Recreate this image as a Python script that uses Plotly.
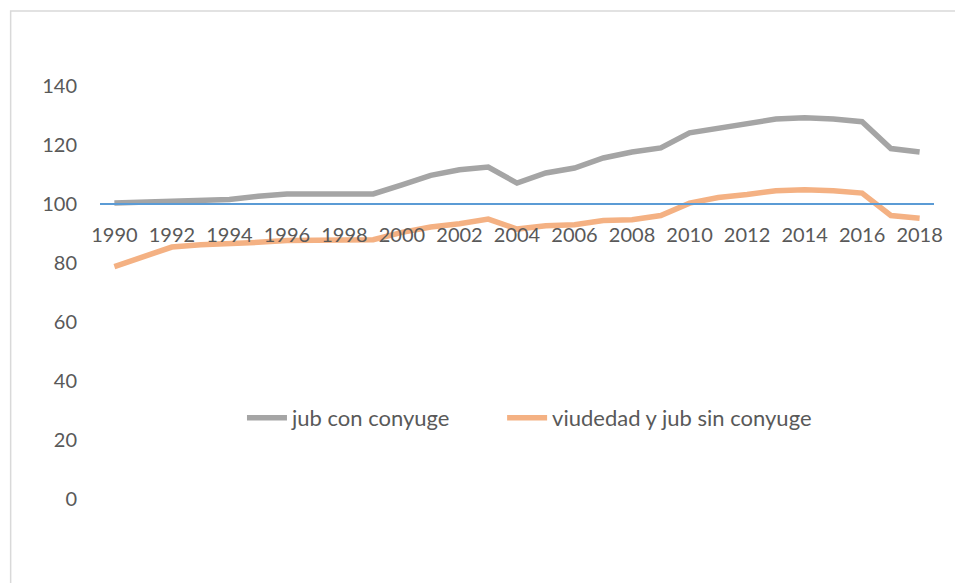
import plotly.graph_objects as go

# Index series, base 100
years = list(range(1990, 2019))
jub_con_conyuge = [100.3, 100.6, 100.8, 101.5, 101.5, 102.6, 103.4, 103.4, 103.4, 103.4,
                   106.5, 109.7, 111.6, 112.5, 107.1, 110.5, 112.2, 115.6, 117.6, 119.0,
                   124.1, 125.8, 127.2, 128.8, 129.2, 128.8, 127.9, 118.8, 117.6]
viudedad_sin_conyuge = [78.8, 82.1, 85.4, 86.2, 86.5, 87.0, 87.6, 87.8, 88.0, 87.9,
                        90.4, 92.2, 93.3, 94.9, 91.5, 92.6, 93.0, 94.4, 94.7, 96.1,
                        100.3, 102.2, 103.2, 104.5, 104.8, 104.5, 103.7, 96.1, 95.2]
series_names = ["jub con conyuge", "viudedad y jub sin conyuge"]
y_ticks = [0, 20, 40, 60, 80, 100, 120, 140]
base_value = 100

FONT = "Lato, Carlito, 'Liberation Sans', sans-serif"
TEXT = "#595959"

fig = go.Figure()
fig.add_trace(go.Scatter(
    x=years, y=jub_con_conyuge, name=series_names[0], mode="lines",
    line=dict(color="#A5A5A5", width=5.5), legend="legend",
))
fig.add_trace(go.Scatter(
    x=years, y=viudedad_sin_conyuge, name=series_names[1], mode="lines",
    line=dict(color="#F4B183", width=5.5), legend="legend2",
))

W, H = 955, 583
L, R, T, B = 100, 15, 27, 84
plot_w, plot_h = W - L - R, H - T - B

def px_x(p):
    return (p - L) / plot_w

def px_y(p):
    return (H - B - p) / plot_h

legend_style = dict(
    orientation="h", xanchor="left", yanchor="middle",
    font=dict(family=FONT, size=22, color=TEXT),
    bgcolor="rgba(0,0,0,0)", itemwidth=40,
)

fig.update_layout(
    width=W, height=H,
    margin=dict(l=L, r=R, t=T, b=B),
    paper_bgcolor="white", plot_bgcolor="white",
    font=dict(family=FONT, size=20, color=TEXT),
    showlegend=True,
    legend=dict(x=px_x(243), y=px_y(418), **legend_style),
    legend2=dict(x=px_x(505), y=px_y(418), **legend_style),
    xaxis=dict(
        range=[years[0] - 0.5, years[-1] + 0.5],
        tickmode="linear", tick0=years[0], dtick=2,
        anchor="free", position=base_value / 160,
        showline=True, linecolor="#5B9BD5", linewidth=2,
        showgrid=False, zeroline=False, ticks="", ticklabelstandoff=13,
        tickfont=dict(family=FONT, size=20, color=TEXT),
    ),
    yaxis=dict(
        range=[0, 160], tickmode="array", tickvals=y_ticks,
        showgrid=False, zeroline=False, showline=False, ticks="",
        ticklabelstandoff=22,
        tickfont=dict(family=FONT, size=20, color=TEXT),
    ),
    shapes=[
        dict(type="rect", xref="paper", yref="paper",
             x0=px_x(10), x1=px_x(1000), y0=px_y(700), y1=px_y(11),
             line=dict(color="#D9D9D9", width=1.5), fillcolor="rgba(0,0,0,0)",
             layer="below"),
    ],
)

fig.write_html("out.html")
